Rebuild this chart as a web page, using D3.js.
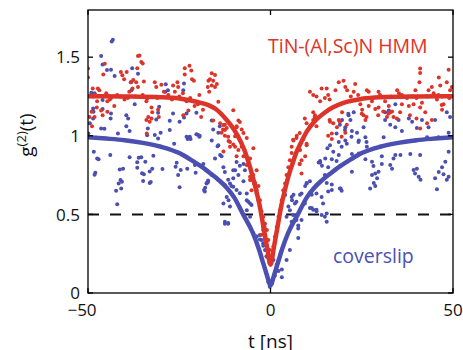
<!DOCTYPE html>
<html lang="en">
<head>
  <meta charset="UTF-8">
  <style>
body {
    margin: 0;
    background: #fff;
    font-family: 'Open Sans', Arial, sans-serif;
}
.axis-line { stroke: #000; stroke-width: 1.3; fill: none; }
.tick-label { font-size: 17px; fill: #111; }
.axis-title { font-size: 19px; fill: #111; }
  </style>
  <title>g2</title>
</head>
<body>
<div id="wrapper"></div>
<script src="https://cdnjs.cloudflare.com/ajax/libs/d3/7.8.5/d3.min.js"></script>
<script>
// ---- DATA ----
const xTicks = [-50, 0, 50]
const yTicks = [0, 0.5, 1, 1.5]
const xTickLabels = ['\u221250', '0', '50']
const yTickLabels = ['0', '0.5', '1', '1.5']
const threshold = 0.5

// fitted curves [t, g2]
const redFit = [[-50,1.252],[-40,1.25],[-30,1.245],[-25,1.237],[-20,1.215],[-17,1.195],[-15,1.17],[-12,1.1],[-10,1.04],[-8,0.955],[-7,0.9],[-6,0.83],[-5,0.75],[-4,0.66],[-3,0.56],[-2,0.43],[-1,0.3],[0,0.18],
  [1,0.3],[2,0.43],[3,0.56],[4,0.66],[5,0.75],[6,0.82],[7,0.89],[8,0.94],[10,1.03],[12,1.09],[15,1.15],[17,1.18],[20,1.21],[25,1.235],[30,1.245],[40,1.25],[50,1.252]]
const blueFit = [[-50,0.99],[-45,0.982],[-40,0.972],[-35,0.955],[-30,0.93],[-25,0.89],[-22,0.85],[-19,0.805],[-16.7,0.765],[-14,0.715],[-12,0.67],[-10,0.61],[-7.5,0.5],[-4.8,0.38],[-3.1,0.273],[-2,0.19],[-1,0.115],[0,0.05],
  [1,0.115],[2,0.19],[3.1,0.273],[4.8,0.38],[7.5,0.5],[10,0.61],[12,0.67],[14,0.715],[16.7,0.765],[19,0.805],[22,0.85],[25,0.89],[30,0.93],[35,0.955],[40,0.972],[45,0.982],[50,0.99]]

// measured points [t, g2]
const bluePoints = [[-43.2,1.61],[-43.5,1.6],[-46.4,1.507],[-46,1.454],[-44.8,1.418],[-43.7,1.42],[-42.7,1.38],[-37.9,1.43],[-36.3,1.395],[-49.1,1.273],[-48.2,1.27],[-46,1.228],[-48.6,1.174],[-46,1.17],[-43.7,1.142],[-48.6,1.11],[-43.8,1.11],[-49.5,1.08],[-46.4,1.047],[-45.5,1.045],[-41.8,1.015],[-39.5,1.13],[-39,1.11],[-39.5,1.06],[-38.6,1.03],[-38.1,1.29],[-38.3,1.34],[-37.2,1.2],[-33.6,1.047],[-33.8,1.004],[-31.7,1.005],[-30.8,0.983],[-31.3,1.104],[-30.1,1.02],[-30.8,1.146],[-30.5,1.184],[-28.7,1.327],[-28.8,1.28],[-27.6,1.095],[-27.6,1.036],[-26.7,1.142],[-26.4,0.95],[-24.9,1.09],[-23.7,1.117],[-23,1.142],[-23.9,1.29],[-23.7,1.333],[-28.1,1.29],[-22.1,0.994],[-22.7,0.98],[-21.9,0.98],[-20.3,1.146],[-19.9,1.006],[-19.5,0.994],
  [-48.4,0.899],[-47.5,0.856],[-47.1,0.85],[-48,0.765],[-48.2,0.752],[-43.9,0.877],[-41.3,0.786],[-40.4,0.79],[-41.1,0.718],[-41.6,0.697],[-40.7,0.707],[-40.9,0.665],[-42.3,0.65],[-42,0.564],[-38.6,0.863],[-36.5,0.831],[-36.1,0.86],[-35.4,0.863],[-36.5,0.797],[-35.2,0.761],[-34.7,0.755],[-34.9,0.712],[-34.3,0.835],[-33.1,0.772],[-32.4,0.79],[-32.8,0.706],[-33.1,0.7],[-32.1,0.873],[-29.6,0.788],[-26,0.803],[-25.7,0.828],[-25.3,0.75],[-24.6,0.782],[-24.9,0.672],[-22.8,0.79],[-20.7,0.814],[-20.5,0.765],[-18.4,0.82],[-18.2,0.655],[-18,0.645],[-17.5,0.697],[-17.1,0.706],
  [-16.1,1.097],[-15.7,1.04],[-14.3,1.02],[-16.1,0.97],[-14.5,0.934],[15.6,0.92],
  [19.6,1.1],[22.8,1.15],[21.4,1.13],[21.9,1.1],[20.5,1.055],[22.3,1.03],[23.7,1.02],[25.5,1.055],[26,0.99],[24.2,0.97],[26.4,0.93],[20.5,0.97],[18.7,0.96],[31.4,1.15],[32.4,1.16],[34.2,1.2],[31.4,1.1],[32.8,1.07],[34.2,1.055],[35.1,1.1],[36,1.03],[37.9,1.11],[38.8,1.09],[40.1,1.05],[41.5,1.1],[42.9,0.99],[43.3,1.055],[45.1,1.1],[46,0.99],[48.3,1.15],[49.2,1.12],[48.8,1.02],[31,0.99],[39.7,0.97],
  [18.7,0.877],[22.3,0.884],[24.2,0.888],[26,0.85],[27.8,0.835],[28.2,0.807],[27.8,0.75],[28.7,0.76],[29.6,0.771],[29.2,0.73],[28.3,0.7],[28.7,0.68],[27.3,0.665],[30.5,0.82],[32.8,0.814],[33.3,0.79],[34.2,0.877],[33.7,0.856],[39.2,0.782],[40.1,0.79],[39.6,0.76],[40.6,0.74],[41.1,0.72],[38.3,0.884],[41,0.877],[45.1,0.73],[46.1,0.77],[47,0.8],[47.9,0.835],[48.3,0.72],[48.8,0.74],[45.6,0.66],[47.4,0.755],[19.2,0.665],[19.5,0.65],[16.8,0.69],[22.3,0.771],[30.5,0.87],[35.6,0.877],[48.8,0.898],
  [-15.2,0.856],[-13.8,0.877],[-16.1,0.75],[-14.3,0.718],[-12.5,0.686],[-11.1,0.697],[-10.2,0.676],[-11.5,0.59],[-12.5,0.453],[-11.6,0.446],[-9.3,0.834],[-8.4,0.81],[-7.4,0.82],[-7,0.78],[-9.7,0.78],[-10.2,0.73],[-6.5,0.633],[-6.1,0.58],[-5.6,0.57],[-5.2,0.56],[-6.5,0.527],[-5.6,0.485],[-2,0.4],[-1.6,0.42],[-2.9,0.369],[-3.8,0.36],[-2.4,0.337],[-1.5,0.273],[-1,0.23],[0.8,0.21],[1.7,0.18],[2.2,0.14],[3.1,0.15],[3.1,0.1],[1.2,0.11],[-0.6,0.072],[0.3,0.06],[-0.2,0.04],[4.4,0.21],[5.3,0.273],[4.4,0.485],[6.2,0.496],[5.8,0.453],[7.6,0.41],[7.6,0.35],[5.3,0.527],[4,0.623],[5.8,0.61],[7.1,0.58],[6.7,0.57],[8.5,0.633],[9.9,0.697],[11.3,0.625],[12.6,0.633],[9.4,0.57],[10.8,0.54],[11.7,0.53],[12.6,0.52],[14,0.496],[14.9,0.485],[15.4,0.505],[15.4,0.453],[14.4,0.57],[15.8,0.645],[13.6,0.84],[13.2,0.83],[14.9,0.75],[15.8,0.8],[8.5,0.464],[7.1,0.464],[7.6,0.43],[2.2,0.21],[-2,0.316],
  [-23,0.994],[-20.3,1.01],[-19.4,1],[-13.9,1.06],[-14.3,0.94],[-13.4,0.87],[-12.9,0.8],[-17.5,0.7],[-17.1,0.715],[-17.9,0.67],[-12.5,0.77],[-11.6,0.72],[-10.7,0.68],[-9.3,0.655],[-8.4,0.634],[-12,0.61],[-12.9,0.57],[-11.1,0.55],[-12.5,0.44],[-11.6,0.44],[-10.2,0.78],[-8.8,0.75],[-7.4,0.71],[-6.5,0.59],[-4.7,0.38],[-3.8,0.36],[-2.9,0.34],[-2,0.3],[-1.1,0.233],
  [21.3,1.14],[19,1.07],[18.1,1.015],[20.4,1.036],[22.2,0.994],[20.9,0.95],[19.5,0.93],[24.1,0.96],[17.2,0.898],[15,0.856],[16.8,0.85],[18.1,0.84],[13.6,0.83],[14.1,0.81],[16.3,0.94],[26.3,0.96],[9.9,0.7],[10.8,0.71],[9.5,0.68],[8.1,0.625],[6.3,0.625],[5.9,0.59],[4.9,0.55],[14,0.61],[16.8,0.655],[19,0.665],[15.4,0.7],[11.3,0.54],[12.6,0.53],
  [-49.9,1.015],[-48.5,1.153]]

const redPoints = [[-50,1.428],[-50,1.37],[-47.3,1.3],[-46.9,1.29],[-48.6,1.25],[-46,1.25],[-47.5,1.22],[-49,1.153],[-49.6,1.12],[-48.2,1.12],[-46,1.13],[-46.4,1.16],[-44.7,1.153],[-44.7,1.22],[-42.8,1.19],[-43.7,1.24],[-41,1.25],[-39.1,1.24],[-38.7,1.28],[-37.8,1.3],[-38.2,1.34],[-41,1.405],[-40.6,1.385],[-40.1,1.36],[-45.4,1.458],[-45.8,1.39],[-36.3,1.507],[-35.9,1.51],[-35.4,1.47],[-35,1.46],[-36.5,1.43],[-36.8,1.34],[-36.3,1.31],[-34.7,1.345],[-33.8,1.235],[-32.6,1.18],[-32.4,1.15],[-32.6,1.11],[-33.1,1.09],[-34,1.1],[-30.8,1.165],[-30.6,1.12],[-31.7,1.34],[-31.3,1.31],[-29.9,1.325],[-29.2,1.28],[-26.7,1.32],[-25.5,1.34],[-25.3,1.31],[-26.2,1.28],[-23.5,1.43],[-22.2,1.445],[-21.7,1.415],[-21.5,1.36],[-21,1.35],[-23.5,1.39],[-23,1.22],[-22.5,1.16],[-23.9,1.13],[-20.8,1.19],[-19.9,1.2],[-19.5,1.26],[-18.5,1.165],[-19,1.12],[-17.2,1.31],[-17,1.35],[-16.8,1.28],
  [-48,1.26],[-45,1.27],[-44,1.23],[-42,1.26],[-40,1.23],[-37,1.25],[-35,1.26],[-34,1.22],[-31,1.24],[-28,1.26],[-27,1.23],[-25,1.25],[-24,1.27],[-22,1.24],[-21,1.22],
  [-48.7,1.3],[-47.6,1.18],[-48.9,1.06],[-39.4,1.405],[-37.6,1.354],
  [-16.1,1.397],[-15.2,1.386],[-16.6,1.36],[-15.7,1.35],[-16.1,1.32],[-15.2,1.31],[-14.7,1.33],[-14.3,1.216],[-15.7,1.097],[-13.8,1.08],[-12.5,1.07],[-13,1.04],[-12,1.05],[-13.4,1.02],[-12.5,1],[-11.5,0.967],[-10.2,1.163],[-8.8,1.097],[-8.4,1.087],[-9.3,1.055],[-7.9,1.04],[-7.4,1.017],[-6.5,0.986],[-9.7,0.997],[-10.2,0.945],[-11.1,0.93],[-4.7,0.92],
  [10.8,1.28],[11.7,1.26],[12.6,1.25],[14,1.3],[15.4,1.3],[14.9,1.24],[13.6,1.22],[15.8,1.26],[16.2,1.23],[9.4,1.11],[9.9,1.08],[12.1,1.12],[12.6,1.06],[11.7,1.15],[8,1.017],[7.1,0.986],[6.2,0.975],[5.8,0.93],[9.9,0.94],[16.2,1.1],[15.8,1],
  [41,1.428],[41,1.4],[40.8,1.34],[46.1,1.37],[46.5,1.32],[48.8,1.42],[48.3,1.34],[49.7,1.31],[49.2,1.29],[43.3,1.29],[44.2,1.31],[44.7,1.27],[45.6,1.23],[39.7,1.29],[38.8,1.25],[37.4,1.24],[34.7,1.29],[35.2,1.27],[36,1.2],[37.9,1.19],[39.2,1.2],[41,1.18],[41.5,1.21],[42.4,1.15],[47,1.165],[47.4,1.2],[47,1.25],[18.7,1.34],[20,1.35],[20.5,1.31],[21,1.29],[17.8,1.29],[23.2,1.33],[22.8,1.28],[26.4,1.29],[26.9,1.28],[29.6,1.28],[31.4,1.22],[29.6,1.18],[28.7,1.17],[26.9,1.19],[25.1,1.165],[24.6,1.2],[27.8,1.22],[32.4,1.19],[32.8,1.15],[33.3,1.155],[31.9,1.12],[33.7,1.12],[34.6,1.11],[30.9,1.155],[25.5,1.13],[26,1.1],[21.9,1.22],[19.6,1.15],[18.7,1.1],[18.2,1.055],[20.9,1.07],[20.5,1.02],
  [22,1.25],[24,1.26],[28,1.24],[30,1.26],[33,1.25],[36,1.26],[40,1.24],[43,1.25],[46,1.26],[49,1.24],
  [-4.7,0.75],[-4.5,0.697],[-4.2,0.68],[-3.8,0.633],[-3.3,0.59],[-2.9,0.55],[-2.5,0.52],[-2,0.485],[-1.5,0.44],[-1,0.4],[-0.6,0.337],[-0.2,0.273],[0.2,0.23],[-0.2,0.19],[0.8,0.295],[1.2,0.358],[1.7,0.42],[2.2,0.485],[2.6,0.527],[3.1,0.59],[3.5,0.654],[4,0.697],[4.4,0.75],[4.9,0.8],[5.3,0.845],[5.8,0.89],[8,0.82],[8.5,0.76],[7.6,0.91],[-5.6,0.718],[-5.2,0.654],[-3.8,0.78],
  [-12.9,1.068],[-12.5,1.036],[-11.6,0.994],[-11.1,0.96],[-9.3,1.06],[-9.7,0.93],[-8.8,0.91],[-7.9,0.93],[-7.4,0.87],[-6.5,0.814],[-5.6,0.74],[-5.2,0.72],[-4.2,0.7],[-3.8,0.655],[-2.9,0.59],[-3.3,0.68],[-2,0.42],[-2.4,0.37],[-1.5,0.34],[-33.5,1.12],[-33.9,1.015],[-12.9,0.9],[-9.3,0.87],[-5.6,0.856],
  [6.3,0.97],[7.2,1],[9,0.98],[8.1,0.91],[8.5,0.845],[8,0.82],[9.5,0.87],[10.8,1.06],[11.7,1.1],[12.2,1.13],[9.9,0.95],[16.3,1.09],[17.2,1.08],[19,1.09],[16.8,1.015],[16.8,0.98],[19.5,0.994],[25,1.14],[26.3,1.12],[29.5,1.13],[32.3,1.14],[35.5,1.15],[38.2,1.13],[40,1.11],[41,1.046],[42.9,1.08],[44.2,1.1],[46.9,1.195]]

const RED = '#dd3328'
const BLUE = '#4a4fb1'

// ---- LAYOUT ----
const width = 463, height = 350
const margin = {top: 10, right: 10, bottom: 57, left: 88}
const x = d3.scaleLinear().domain([-50, 50]).range([margin.left, width - margin.right])
const y = d3.scaleLinear().domain([0, 1.8]).range([height - margin.bottom, margin.top])

const svg = d3.select('#wrapper').append('svg')
  .attr('width', width).attr('height', height)

svg.append('defs').append('clipPath').attr('id', 'plotclip')
  .append('rect')
  .attr('x', x(-50)).attr('y', y(1.8))
  .attr('width', x(50) - x(-50)).attr('height', y(0) - y(1.8))

const plot = svg.append('g').attr('clip-path', 'url(#plotclip)')

// threshold line
plot.append('line')
  .attr('x1', x(-50)).attr('x2', x(50))
  .attr('y1', y(threshold)).attr('y2', y(threshold))
  .attr('stroke', '#111').attr('stroke-width', 2)
  .attr('stroke-dasharray', '11,11')

plot.append('g').selectAll('circle').data(bluePoints).join('circle')
  .attr('cx', d => x(d[0])).attr('cy', d => y(d[1])).attr('r', 2)
  .attr('fill', BLUE)

plot.append('g').selectAll('circle').data(redPoints).join('circle')
  .attr('cx', d => x(d[0])).attr('cy', d => y(d[1])).attr('r', 2)
  .attr('fill', RED)

const line = d3.line().x(d => x(d[0])).y(d => y(d[1])).curve(d3.curveMonotoneX)

plot.append('path').datum(blueFit)
  .attr('d', line).attr('fill', 'none')
  .attr('stroke', BLUE).attr('stroke-width', 4.5).attr('stroke-linejoin', 'round')

plot.append('path').datum(redFit)
  .attr('d', line).attr('fill', 'none')
  .attr('stroke', RED).attr('stroke-width', 4.5).attr('stroke-linejoin', 'round')

// ---- AXES (box with inward ticks) ----
const axes = svg.append('g')
axes.append('rect').attr('class', 'axis-line')
  .attr('x', x(-50)).attr('y', y(1.8))
  .attr('width', x(50) - x(-50)).attr('height', y(0) - y(1.8))

const tickLen = 5
yTicks.forEach(v => {
  axes.append('line').attr('class', 'axis-line')
    .attr('x1', x(-50)).attr('x2', x(-50) + tickLen).attr('y1', y(v)).attr('y2', y(v))
  axes.append('line').attr('class', 'axis-line')
    .attr('x1', x(50)).attr('x2', x(50) - tickLen).attr('y1', y(v)).attr('y2', y(v))
})
xTicks.forEach(v => {
  axes.append('line').attr('class', 'axis-line')
    .attr('x1', x(v)).attr('x2', x(v)).attr('y1', y(0)).attr('y2', y(0) - tickLen)
  axes.append('line').attr('class', 'axis-line')
    .attr('x1', x(v)).attr('x2', x(v)).attr('y1', y(1.8)).attr('y2', y(1.8) + tickLen)
})

svg.append('g').selectAll('text').data(yTicks).join('text')
  .attr('class', 'tick-label')
  .attr('x', x(-50) - 8).attr('y', d => y(d))
  .attr('dy', '0.36em').attr('text-anchor', 'end')
  .text((d, i) => yTickLabels[i])

svg.append('g').selectAll('text').data(xTicks).join('text')
  .attr('class', 'tick-label')
  .attr('x', d => x(d) + (d < 0 ? -6 : 0)).attr('y', 316)
  .attr('text-anchor', 'middle')
  .text((d, i) => xTickLabels[i])

svg.append('text').attr('class', 'axis-title')
  .attr('x', x(0)).attr('y', 348).attr('text-anchor', 'middle')
  .text('t [ns]')

const yTitle = svg.append('text').attr('class', 'axis-title')
  .attr('transform', 'translate(33,135) rotate(-90)')
  .attr('text-anchor', 'middle')
yTitle.append('tspan').text('g')
yTitle.append('tspan').attr('dy', -7).attr('font-size', 13).text('(2)')
yTitle.append('tspan').attr('dy', 7).text('(t)')

// ---- LEGEND LABELS ----
svg.append('text').attr('x', 268).attr('y', 53).attr('font-size', 19.5)
  .attr('fill', RED).text('TiN-(Al,Sc)N HMM')
svg.append('text').attr('x', 333).attr('y', 263).attr('font-size', 19.5)
  .attr('fill', BLUE).text('coverslip')
</script>
</body>
</html>
